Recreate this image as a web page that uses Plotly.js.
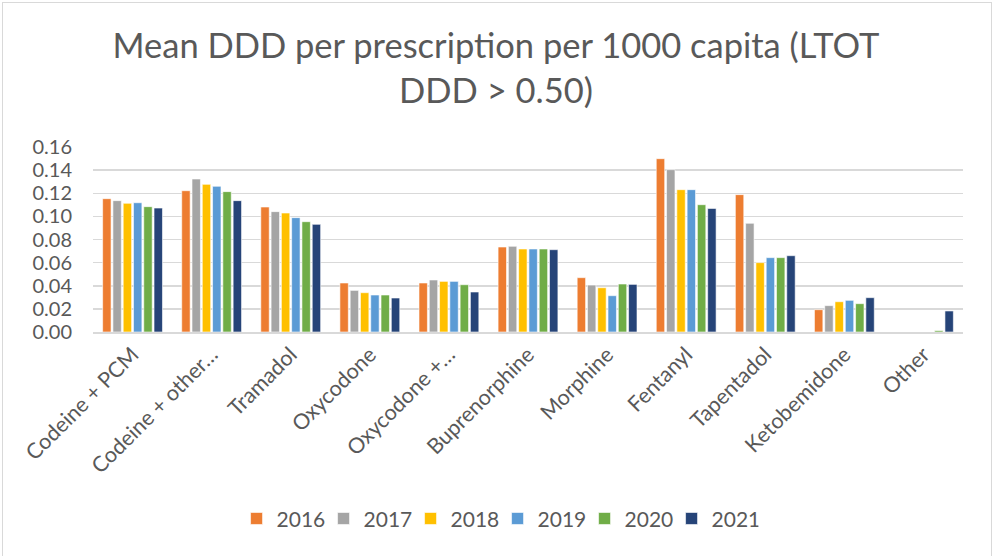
<!DOCTYPE html>
<html>
<head>
<meta charset="utf-8">
<script src="https://cdn.plot.ly/plotly-3.0.1.min.js"></script>
<style>
  html, body { margin: 0; padding: 0; background: #fff; }
  #wrap { position: relative; width: 992px; height: 556px; overflow: hidden; }
  #chart { width: 992px; height: 556px; }
  #frame { position: absolute; left: 2px; top: 2px; width: 988px; height: 560px; border: 1px solid #d9d9d9; pointer-events: none; }
</style>
</head>
<body>
<div id="wrap">
  <div id="chart"></div>
  <div id="frame"></div>
</div>
<script>
const categories = ["Codeine + PCM", "Codeine + other…", "Tramadol", "Oxycodone", "Oxycodone +…",
  "Buprenorphine", "Morphine", "Fentanyl", "Tapentadol", "Ketobemidone", "Other"];
const years = ["2016", "2017", "2018", "2019", "2020", "2021"];
const v2016 = [0.1153, 0.1222, 0.1081, 0.0424, 0.0424, 0.0735, 0.0470, 0.1499, 0.1188, 0.0193, 0];
const v2017 = [0.1136, 0.1323, 0.1041, 0.0360, 0.0450, 0.0741, 0.0406, 0.1404, 0.0940, 0.0228, 0];
const v2018 = [0.1113, 0.1277, 0.1029, 0.0340, 0.0438, 0.0718, 0.0383, 0.1231, 0.0600, 0.0262, 0];
const v2019 = [0.1118, 0.1260, 0.0989, 0.0320, 0.0438, 0.0718, 0.0314, 0.1231, 0.0643, 0.0274, 0];
const v2020 = [0.1084, 0.1214, 0.0954, 0.0320, 0.0409, 0.0718, 0.0415, 0.1101, 0.0643, 0.0245, 0.0012];
const v2021 = [0.1072, 0.1136, 0.0931, 0.0294, 0.0346, 0.0712, 0.0412, 0.1069, 0.0660, 0.0297, 0.0182];
const series = [v2016, v2017, v2018, v2019, v2020, v2021];
const colors = ["#ED7D31", "#A5A5A5", "#FFC000", "#5B9BD5", "#70AD47", "#264478"];
const yTicks = [0, 0.02, 0.04, 0.06, 0.08, 0.10, 0.12, 0.14, 0.16];
const yTickText = ["0.00", "0.02", "0.04", "0.06", "0.08", "0.10", "0.12", "0.14", "0.16"];

const FONT = "Lato, Carlito, 'Open Sans', sans-serif";
const TXT = "#595959";

const traces = series.map((vals, i) => ({
  type: "bar",
  name: years[i],
  x: categories,
  y: vals,
  marker: { color: colors[i], line: { color: "#ffffff", width: 0.6 } },
  hoverinfo: "x+y+name"
}));

const layout = {
  width: 992,
  height: 556,
  paper_bgcolor: "#ffffff",
  plot_bgcolor: "#ffffff",
  margin: { l: 93, r: 29, t: 147, b: 224 },
  title: {
    text: "Mean DDD per prescription per 1000 capita (LTOT<br>DDD > 0.50)",
    font: { family: FONT, size: 34.5, color: TXT },
    x: 0.5, xanchor: "center",
    yref: "container", y: 0.895, yanchor: "top"
  },
  barmode: "group",
  bargap: 0.22,
  bargroupgap: 0.18,
  xaxis: {
    type: "category",
    tickangle: -45,
    tickfont: { family: FONT, size: 21.5, color: TXT },
    showgrid: false,
    showline: true,
    linecolor: "#d9d9d9",
    linewidth: 1.5,
    ticks: "",
    automargin: false
  },
  yaxis: {
    range: [0, 0.16],
    tickvals: yTicks,
    ticktext: yTickText,
    tickfont: { family: FONT, size: 20, color: TXT },
    showgrid: true,
    gridcolor: "#d9d9d9",
    gridwidth: 1.5,
    zeroline: false,
    showline: false,
    ticks: "",
    ticklabelstandoff: 20,
    automargin: false
  },
  legend: {
    orientation: "h",
    x: 0.465, xanchor: "center",
    yref: "container", y: 0.03, yanchor: "bottom",
    font: { family: FONT, size: 21, color: TXT },
    itemwidth: 30,
    entrywidth: 42,
    entrywidthmode: "pixels",
    traceorder: "normal"
  },
  showlegend: true
};

Plotly.newPlot("chart", traces, layout, { displayModeBar: false, staticPlot: true });
</script>
</body>
</html>
